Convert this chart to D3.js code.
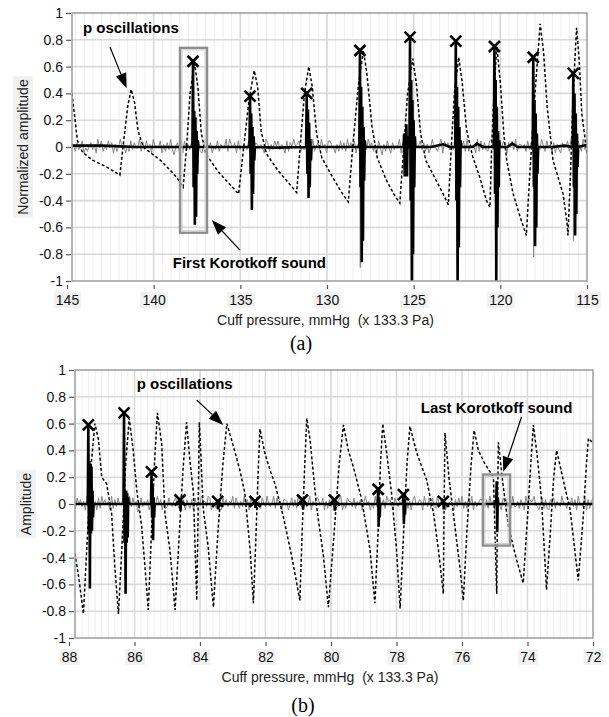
<!DOCTYPE html>
<html>
<head>
<meta charset="utf-8">
<script src="https://cdn.jsdelivr.net/npm/d3@7"></script>
<style>
  body { margin: 0; background: #fff; }
  svg { display: block; font-family: Arial, "Liberation Sans", sans-serif; }
</style>
</head>
<body>
<svg id="chart" width="609" height="717"></svg>
<script>
// ---- shared axis values
var yTicks = [1, 0.8, 0.6, 0.4, 0.2, 0, -0.2, -0.4, -0.6, -0.8, -1];
var xTicksA = [145, 140, 135, 130, 125, 120, 115];
var xTicksB = [88, 86, 84, 82, 80, 78, 76, 74, 72];

// ---- panel (a): cuff pressure oscillations (dotted), [mmHg, normalized amplitude]
var pOscA = [
  [144.72, 0.40], [144.55, 0.22], [144.4, 0.05], [144.1, -0.04], [143.5, -0.1], [142.7, -0.15], [142.2, -0.19], [141.95, -0.21],
  [141.75, 0.02], [141.5, 0.30], [141.3, 0.43],
  [141.1, 0.33], [140.9, 0.12], [140.6, 0.0], [140.2, -0.04], [139.6, -0.1], [139.0, -0.18], [138.65, -0.23], [138.3, -0.3],
  [138.1, 0.0], [137.9, 0.40], [137.65, 0.63],
  [137.45, 0.45], [137.25, 0.10], [137.0, -0.05], [136.3, -0.18], [135.6, -0.28], [135.1, -0.35],
  [134.85, -0.05], [134.5, 0.35], [134.2, 0.57],
  [134.0, 0.45], [133.8, 0.12], [133.5, -0.05], [132.8, -0.18], [132.2, -0.27], [131.75, -0.34],
  [131.55, 0.0], [131.3, 0.40], [131.05, 0.60],
  [130.85, 0.45], [130.6, 0.10], [130.3, -0.08], [129.7, -0.22], [129.2, -0.33], [128.77, -0.41],
  [128.55, -0.05], [128.2, 0.45], [127.9, 0.72],
  [127.7, 0.55], [127.4, 0.15], [127.1, -0.08], [126.6, -0.24], [126.15, -0.35], [125.8, -0.42],
  [125.6, -0.05], [125.35, 0.40], [125.05, 0.66],
  [124.85, 0.48], [124.6, 0.10], [124.3, -0.10], [123.7, -0.25], [123.3, -0.35], [123.0, -0.43],
  [122.85, -0.05], [122.65, 0.40], [122.4, 0.67],
  [122.2, 0.48], [121.95, 0.13], [121.6, -0.07], [121.2, -0.22], [120.8, -0.40], [120.6, -0.45],
  [120.5, 0.0], [120.35, 0.45], [120.2, 0.75],
  [120.0, 0.48], [119.8, 0.10], [119.63, -0.10], [119.26, -0.35], [118.86, -0.52], [118.5, -0.66],
  [118.3, -0.2], [118.0, 0.40], [117.7, 0.92],
  [117.5, 0.70], [117.3, 0.30], [116.96, -0.10], [116.38, -0.35], [116.15, -0.57], [116.1, -0.66],
  [115.95, -0.2], [115.8, 0.40], [115.6, 0.89],
  [115.45, 0.65], [115.3, 0.25], [115.0, -0.05]
];
// Korotkoff signal (black): slow baseline and the sound bursts [mmHg, [samples]]
var baseA = [
  [144.75, 0.01], [143, 0.01], [141, 0.0], [139, 0.0], [136, 0.0], [133, -0.005], [130, 0.0], [127, 0.0],
  [124, 0.0], [123.3, 0.02], [122.9, 0.0], [121.6, 0.0], [121.35, 0.025], [121.0, 0.0], [119.6, 0.0],
  [119.3, 0.025], [119.0, 0.0], [117, 0.0], [116.3, 0.01], [114.9, 0.02]
];
var soundsA = [
  [137.73, [0.64, -0.3, 0.27, -0.58, 0.22, -0.52, 0.12, -0.2, 0.05]],
  [134.44, [0.38, -0.2, 0.25, -0.47, 0.15, -0.35, 0.08, -0.1]],
  [131.17, [0.40, -0.2, 0.28, -0.38, 0.18, -0.3, 0.06, -0.1]],
  [128.1, [0.72, -0.3, 0.45, -0.86, 0.3, -0.7, 0.15, -0.25, 0.05]],
  [125.55, [0.1, -0.22, 0.05]],
  [125.42, [0.17, -0.22, 0.08]],
  [125.21, [0.82, -0.4, 0.5, -1.05, 0.35, -0.8, 0.2, -0.3, 0.08]],
  [122.57, [0.79, -0.4, 0.45, -1.05, 0.3, -0.75, 0.15, -0.3, 0.05]],
  [120.34, [0.75, -0.35, 0.5, -1.05, 0.3, -0.6, 0.12, -0.3, 0.05]],
  [118.1, [0.67, -0.3, 0.35, -0.74, 0.25, -0.6, 0.1, -0.2]],
  [115.79, [0.55, -0.3, 0.4, -0.66, 0.25, -0.5, 0.1, -0.15]]
];
// raw microphone noise (gray), one digit per sample, 0..9 around 4.5
var noiseA =
  "4627358142573619482538471625946152837449273846195548162739305729184637" +
  "3468215974715382644929647183535382917646419726385836418275956825341719" +
  "2573946188541628372947381629543957261840628417355917483962455837261494" +
  "4269185736371654829264519283732893615748517483926646283715953952846171" +
  "631745829447852936165382917646";
var grayTipsA = [[128.08, -0.9], [118.08, -0.82], [115.78, -0.70]];
var peaksA = [
  [137.73, 0.64], [134.44, 0.38], [131.17, 0.40], [128.1, 0.72], [125.21, 0.82],
  [122.57, 0.79], [120.34, 0.75], [118.1, 0.67], [115.79, 0.55]
];

// ---- panel (b)
var pOscB = [
  [87.82, -0.37], [87.7, -0.55], [87.56, -0.82],
  [87.45, -0.3], [87.32, 0.3], [87.21, 0.60],
  [87.1, 0.48], [87.0, 0.2], [86.85, 0.15], [86.7, -0.07], [86.6, -0.47], [86.49, -0.82],
  [86.38, -0.3], [86.27, 0.3], [86.16, 0.64],
  [86.04, 0.40], [85.93, 0.10], [85.78, -0.17], [85.68, -0.47], [85.58, -0.79],
  [85.48, -0.2], [85.38, 0.35], [85.30, 0.68],
  [85.17, 0.45], [85.07, -0.07], [84.92, -0.34], [84.76, -0.79],
  [84.65, -0.3], [84.52, 0.25], [84.41, 0.61],
  [84.31, 0.33], [84.2, 0.08], [84.1, -0.72],
  [84.06, -0.1], [84.02, 0.61],
  [83.9, -0.04], [83.75, -0.32], [83.59, -0.77],
  [83.45, -0.2], [83.3, 0.3], [83.18, 0.60],
  [82.98, 0.43], [82.78, 0.25], [82.63, 0.08], [82.47, -0.34], [82.37, -0.74],
  [82.3, -0.3], [82.23, 0.2], [82.17, 0.56],
  [82.02, 0.38], [81.86, 0.25], [81.71, 0.15], [81.46, -0.09], [81.2, -0.39], [80.95, -0.72],
  [80.88, -0.2], [80.8, 0.3], [80.74, 0.64],
  [80.64, 0.48], [80.44, -0.02], [80.23, -0.39], [80.08, -0.77],
  [79.9, -0.2], [79.75, 0.3], [79.62, 0.59],
  [79.47, 0.40], [79.32, 0.28], [79.06, 0.03], [78.81, -0.34], [78.66, -0.74],
  [78.56, -0.2], [78.49, 0.3], [78.42, 0.60],
  [78.3, 0.38], [78.15, 0.08], [78.0, -0.34], [77.89, -0.78],
  [77.78, -0.2], [77.68, 0.3], [77.59, 0.58],
  [77.38, 0.38], [77.08, 0.18], [76.87, -0.07], [76.72, -0.34], [76.57, -0.67],
  [76.55, -0.1], [76.52, 0.53],
  [76.4, 0.2], [76.2, -0.2], [76.05, -0.5], [75.96, -0.72],
  [75.85, -0.2], [75.72, 0.3], [75.63, 0.55],
  [75.5, 0.40], [75.3, 0.30], [75.04, 0.2], [74.94, -0.67],
  [74.92, -0.1], [74.89, 0.46],
  [74.75, 0.15], [74.58, -0.17], [74.33, -0.42], [74.13, -0.59],
  [74.0, -0.1], [73.9, 0.3], [73.82, 0.59],
  [73.7, 0.35], [73.57, 0.03], [73.42, -0.64],
  [73.3, -0.2], [73.2, 0.2], [73.11, 0.40],
  [72.91, 0.18], [72.7, -0.04], [72.45, -0.57],
  [72.3, -0.1], [72.2, 0.3], [72.14, 0.49], [71.9, 0.43]
];
var baseB = [
  [87.9, 0.0], [86, 0.0], [84, 0.0], [82, 0.0], [80, 0.0], [78, 0.0], [76, 0.0], [74, 0.0], [71.9, 0.0]
];
var soundsB = [
  [87.41, [0.59, -0.22, 0.32, -0.63, 0.3, -0.22, 0.28, -0.2, 0.1, -0.1]],
  [86.32, [0.68, -0.29, 0.1, -0.67, 0.1, -0.29, 0.08, -0.25, 0.05]],
  [85.48, [0.24, -0.1, 0.15, -0.27, 0.05, -0.1]],
  [84.61, [0.04, -0.05, 0.03]],
  [83.46, [0.03, -0.04, 0.02]],
  [82.32, [0.03, -0.03]],
  [80.87, [0.04, -0.04]],
  [79.9, [0.04, -0.05, 0.03]],
  [78.56, [0.11, -0.17, 0.05, -0.1]],
  [77.79, [0.07, -0.15, 0.04, -0.08]],
  [76.57, [0.03, -0.04]],
  [74.94, [0.17, -0.21, 0.05]]
];
var noiseB =
  "5284736190374618295746192738457152938460283647159459471623843685294717" +
  "4271836596639815427218473659285263947185471628539435928461776148372953" +
  "2735916488548162739443791528663826471595615293834729674185365438261794" +
  "4761953828329468715565173849262849163577537294618441867352933627419586" +
  "69431582721758264395526483719443917268581758264395";
var grayTipsB = [];
var peaksB = [
  [87.41, 0.59], [86.32, 0.68], [85.48, 0.24], [84.61, 0.03], [83.46, 0.02], [82.32, 0.02],
  [80.87, 0.03], [79.9, 0.03], [78.56, 0.11], [77.79, 0.07], [76.57, 0.02]
];

var svg = d3.select("#chart");

// merge baseline + bursts into one signal ordered along the pressure axis
function soundSeries(base, sounds, step) {
  var pts = base.slice();
  sounds.forEach(function(s) {
    pts.push([s[0] + step, 0]);
    s[1].forEach(function(v, i) { pts.push([s[0] - i * step, v]); });
    pts.push([s[0] - s[1].length * step, 0]);
  });
  pts.sort(function(a, b) { return b[0] - a[0]; });
  return pts;
}

function noiseSeries(str, start, step, tips) {
  var pts = str.split("").map(function(c, i) {
    return [start - i * step, (+c - 4.5) * 0.013];
  });
  tips.forEach(function(t) {
    pts.push([t[0] + 0.01, 0]); pts.push(t); pts.push([t[0] - 0.01, 0]);
  });
  pts.sort(function(a, b) { return b[0] - a[0]; });
  return pts;
}

function arrow(g, x1, y1, x2, y2) {
  var ang = Math.atan2(y2 - y1, x2 - x1), len = 15, hw = 5.5;
  var bx = x2 - len * Math.cos(ang), by = y2 - len * Math.sin(ang);
  g.append("line").attr("x1", x1).attr("y1", y1).attr("x2", bx).attr("y2", by)
    .attr("stroke", "#000").attr("stroke-width", 1.2);
  g.append("path")
    .attr("d", "M" + x2 + "," + y2 +
      "L" + (bx + hw * Math.sin(ang)) + "," + (by - hw * Math.cos(ang)) +
      "L" + (bx - hw * Math.sin(ang)) + "," + (by + hw * Math.cos(ang)) + "Z")
    .attr("fill", "#000");
}

function drawPanel(p) {
  var x = d3.scaleLinear().domain(p.xDomain).range([p.x0, p.right]);
  var y = d3.scaleLinear().domain([-1, 1]).range([p.bottom, p.top]);
  var g = svg.append("g");
  var w = p.right - p.left, h = p.bottom - p.top;

  g.append("clipPath").attr("id", p.id + "-clip")
    .append("rect").attr("x", p.left).attr("y", p.top).attr("width", w).attr("height", h);

  // grid: faint minor verticals, then major lines
  var grid = g.append("g");
  grid.selectAll("line.minor")
    .data(x.ticks(p.minorCount).filter(function(d) { return x(d) > p.left + 1 && x(d) < p.right - 1; }))
    .enter().append("line").attr("class", "minor")
    .attr("x1", x).attr("x2", x).attr("y1", p.top).attr("y2", p.bottom)
    .attr("stroke", "#eeeeee").attr("stroke-width", 1);
  grid.selectAll("line.vx")
    .data(p.xTicks.filter(function(d) { return x(d) > p.left + 1 && x(d) < p.right - 1; }))
    .enter().append("line").attr("class", "vx")
    .attr("x1", x).attr("x2", x).attr("y1", p.top).attr("y2", p.bottom)
    .attr("stroke", "#d9d9d9").attr("stroke-width", 1.6);
  grid.selectAll("line.hy")
    .data(yTicks.filter(function(d) { return d > -1 && d < 1; }))
    .enter().append("line").attr("class", "hy")
    .attr("x1", p.left).attr("x2", p.right).attr("y1", y).attr("y2", y)
    .attr("stroke", "#d9d9d9").attr("stroke-width", 1.6);

  var line = d3.line().x(function(d) { return x(d[0]); }).y(function(d) { return y(d[1]); });
  var plot = g.append("g").attr("clip-path", "url(#" + p.id + "-clip)");

  plot.append("path").datum(noiseSeries(p.noise, p.noiseStart, p.noiseStep, p.grayTips))
    .attr("d", line).attr("fill", "none").attr("stroke", "#858585").attr("stroke-width", 1);
  plot.append("path").datum(p.osc)
    .attr("d", line).attr("fill", "none").attr("stroke", "#000")
    .attr("stroke-width", 1.5).attr("stroke-dasharray", "3,2.2");
  plot.append("path").datum(soundSeries(p.base, p.sounds, p.soundStep))
    .attr("d", line).attr("fill", "none").attr("stroke", "#000")
    .attr("stroke-width", 2.6).attr("stroke-linejoin", "miter");

  plot.selectAll("path.peak").data(p.peaks).enter().append("path").attr("class", "peak")
    .attr("d", function(d) {
      var cx = x(d[0]), cy = y(d[1]), r = 5.5;
      return "M" + (cx - r) + "," + (cy - r) + "L" + (cx + r) + "," + (cy + r) +
        "M" + (cx - r) + "," + (cy + r) + "L" + (cx + r) + "," + (cy - r);
    })
    .attr("stroke", "#000").attr("stroke-width", 2.6).attr("fill", "none");

  // plot frame
  g.append("rect").attr("x", p.left).attr("y", p.top).attr("width", w).attr("height", h)
    .attr("fill", "none").attr("stroke", "#9c9c9c").attr("stroke-width", 1.5);

  // highlighted Korotkoff sound
  var bx = x(p.box[0]), bx2 = x(p.box[1]), by = y(p.box[2]), by2 = y(p.box[3]);
  g.append("rect").attr("x", bx).attr("y", by).attr("width", bx2 - bx).attr("height", by2 - by)
    .attr("fill", "none").attr("stroke", "#8e8e8e").attr("stroke-width", 2.4);
  g.append("rect").attr("x", bx + 2).attr("y", by + 2).attr("width", bx2 - bx - 4).attr("height", by2 - by - 4)
    .attr("fill", "none").attr("stroke", "#cfcfcf").attr("stroke-width", 1.2);

  // axes
  var yAxis = g.append("g").attr("transform", "translate(" + (p.left - 1) + ",0)")
    .call(d3.axisLeft(y).tickValues(yTicks).tickSize(5).tickPadding(3)
      .tickFormat(function(d) { return String(d); }));
  yAxis.select(".domain").remove();
  yAxis.selectAll("line").attr("stroke", "#555").attr("stroke-width", 1.2);
  yAxis.selectAll("text").attr("font-size", 14).attr("fill", "#111")
    .attr("font-family", "Arial, 'Liberation Sans', sans-serif");

  var xAxis = g.append("g").attr("transform", "translate(0," + (p.bottom + 4) + ")")
    .call(d3.axisBottom(x).tickValues(p.xTicks).tickSize(4).tickPadding(6)
      .tickFormat(function(d) { return String(d); }));
  xAxis.select(".domain").remove();
  xAxis.selectAll("line").attr("stroke", "#555").attr("stroke-width", 1.2);
  xAxis.selectAll("text").attr("font-size", 14).attr("fill", "#111")
    .attr("font-family", "Arial, 'Liberation Sans', sans-serif");
  xAxis.selectAll(".tick").each(function() {
    var t = d3.select(this).select("text"), bb = t.node().getBBox();
    d3.select(this).insert("rect", "text")
      .attr("x", bb.x - 2).attr("y", bb.y).attr("width", bb.width + 4).attr("height", bb.height)
      .attr("fill", "#f1f1f1");
  });

  // axis titles
  var yt = g.append("text")
    .attr("transform", "translate(" + (p.left - 49) + "," + y(0) + ") rotate(-90)")
    .attr("text-anchor", "middle").attr("dy", "0.35em")
    .attr("font-size", 14).attr("fill", "#222").text(p.yTitle);
  var ybb = yt.node().getBBox();
  g.insert("rect", function() { return yt.node(); })
    .attr("transform", "translate(" + (p.left - 49) + "," + y(0) + ") rotate(-90)")
    .attr("x", ybb.x - 3).attr("y", ybb.y - 2).attr("width", ybb.width + 6).attr("height", ybb.height + 4)
    .attr("fill", "#f1f1f1");

  g.append("text")
    .attr("x", (p.left + p.right) / 2 - 4).attr("y", p.bottom + 44)
    .attr("text-anchor", "middle").attr("font-size", 14).attr("fill", "#222")
    .style("white-space", "pre").text("Cuff pressure, mmHg  (x 133.3 Pa)");

  g.append("text")
    .attr("x", p.capX).attr("y", p.capY)
    .attr("text-anchor", "middle").attr("font-family", "'Liberation Serif', 'Times New Roman', serif")
    .attr("font-size", 20).attr("fill", "#000").text(p.caption);

  // annotations
  p.notes.forEach(function(n) {
    g.append("text").attr("x", x(n.at[0])).attr("y", y(n.at[1]))
      .attr("font-size", 15).attr("font-weight", "bold").attr("fill", "#000").text(n.text);
    arrow(g, x(n.from[0]), y(n.from[1]), x(n.to[0]), y(n.to[1]));
  });
}

drawPanel({
  id: "a", top: 13, bottom: 281, left: 72, right: 587, x0: 67,
  xDomain: [145, 115], xTicks: xTicksA, minorCount: 60,
  osc: pOscA, base: baseA, sounds: soundsA, soundStep: 0.035,
  noise: noiseA, noiseStart: 144.72, noiseStep: 0.1, grayTips: grayTipsA,
  peaks: peaksA, box: [138.48, 136.92, 0.74, -0.64],
  yTitle: "Normalized amplitude", caption: "(a)", capX: 301, capY: 350,
  notes: [
    { text: "p oscillations", at: [144.08, 0.85], from: [142.52, 0.746], to: [141.56, 0.438] },
    { text: "First Korotkoff sound", at: [138.9, -0.903], from: [135.02, -0.769], to: [136.65, -0.545] }
  ]
});

drawPanel({
  id: "b", top: 370, bottom: 638, left: 75, right: 593, x0: 69,
  xDomain: [88, 72], xTicks: xTicksB, minorCount: 80,
  osc: pOscB, base: baseB, sounds: soundsB, soundStep: 0.016,
  noise: noiseB, noiseStart: 87.85, noiseStep: 0.05, grayTips: grayTipsB,
  peaks: peaksB, box: [75.36, 74.53, 0.22, -0.31],
  yTitle: "Amplitude", caption: "(b)", capX: 303, capY: 712,
  notes: [
    { text: "p oscillations", at: [85.93, 0.858], from: [84.10, 0.776], to: [83.29, 0.59] },
    { text: "Last Korotkoff sound", at: [77.26, 0.681], from: [74.18, 0.651], to: [74.74, 0.241] }
  ]
});
</script>
</body>
</html>
